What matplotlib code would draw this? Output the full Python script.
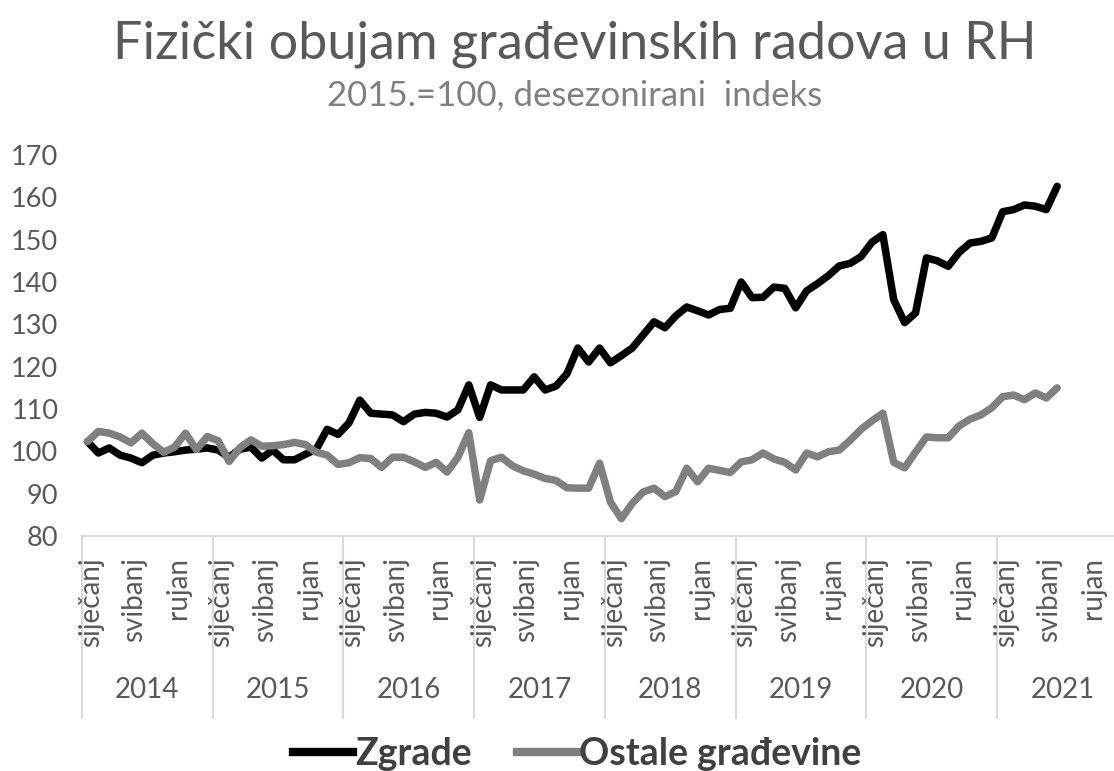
import numpy as np
import matplotlib.pyplot as plt
from matplotlib.lines import Line2D

plt.rcParams['font.family'] = ['Lato', 'DejaVu Sans']

# mjesečni podaci, siječanj 2014 - lipanj 2021
godine = ['2014', '2015', '2016', '2017', '2018', '2019', '2020', '2021']
mjeseci_oznake = {0: 'siječanj', 4: 'svibanj', 8: 'rujan'}

zgrade = [
    102.3, 99.6, 100.8, 99.1, 98.4, 97.3, 99.1, 99.6, 99.9, 100.3, 100.5, 100.8,   # 2014
    100.3, 98.6, 100.5, 101.0, 98.4, 100.3, 98.0, 98.0, 99.3, 100.5, 105.2, 104.0,  # 2015
    106.7, 112.1, 109.0, 108.8, 108.6, 107.0, 108.8, 109.2, 109.0, 108.1, 109.8, 115.7,  # 2016
    108.0, 115.7, 114.5, 114.5, 114.5, 117.6, 114.5, 115.4, 118.3, 124.4, 121.1, 124.4,  # 2017
    120.9, 122.6, 124.4, 127.5, 130.6, 129.2, 132.0, 134.1, 133.2, 132.2, 133.5, 133.8,  # 2018
    140.0, 136.3, 136.4, 138.8, 138.5, 133.9, 137.9, 139.6, 141.5, 143.8, 144.4, 146.0,  # 2019
    149.4, 151.2, 135.8, 130.4, 132.7, 145.7, 145.0, 143.7, 147.0, 149.2, 149.6, 150.4,  # 2020
    156.6, 157.1, 158.2, 157.9, 157.1, 162.6,  # 2021
]

ostale = [
    102.3, 104.7, 104.3, 103.4, 102.0, 104.3, 101.8, 99.8, 101.0, 104.3, 100.4, 103.5,  # 2014
    102.5, 97.6, 100.9, 102.7, 101.2, 101.3, 101.6, 102.1, 101.6, 99.8, 99.1, 96.9,  # 2015
    97.3, 98.5, 98.3, 96.2, 98.6, 98.6, 97.5, 96.2, 97.4, 95.1, 98.6, 104.4,  # 2016
    88.5, 97.8, 98.6, 96.6, 95.4, 94.6, 93.6, 93.1, 91.4, 91.3, 91.3, 97.2,  # 2017
    88.0, 84.1, 87.7, 90.4, 91.3, 89.3, 90.5, 96.0, 92.8, 96.0, 95.5, 95.0,  # 2018
    97.5, 98.0, 99.6, 98.2, 97.4, 95.6, 99.6, 98.7, 99.9, 100.3, 102.6, 105.2,  # 2019
    107.2, 109.0, 97.4, 96.1, 99.8, 103.4, 103.2, 103.2, 106.0, 107.6, 108.6, 110.3,  # 2020
    112.9, 113.3, 112.2, 113.8, 112.6, 115.0,  # 2021
]

boja_teksta = '#595959'
boja_osi = '#d9d9d9'

fig = plt.figure(figsize=(11.14, 7.71), dpi=100)
ax = fig.add_axes([82 / 1114, 1 - 536 / 771, (1128 - 82) / 1114, (536 - 155) / 771])

x = np.arange(len(zgrade))
ax.plot(x, zgrade, color='black', lw=5.4, solid_joinstyle='round', solid_capstyle='round', label='Zgrade')
ax.plot(x, ostale, color='#808080', lw=5.4, solid_joinstyle='round', solid_capstyle='round', label='Ostale građevine')

n_mj = 12 * len(godine)
ax.set_xlim(-0.5, n_mj - 0.5)
ax.set_ylim(80, 170)
ax.set_yticks(np.arange(80, 171, 10))
ax.tick_params(axis='y', length=0, pad=17, labelsize=19.5, labelcolor=boja_teksta)
ax.set_xticks([])

for s in ['left', 'right', 'top']:
    ax.spines[s].set_visible(False)
ax.spines['bottom'].set_color(boja_osi)
ax.spines['bottom'].set_linewidth(1.5)

# dvorazinska kategorijska os (mjesec / godina)
h_px = 536 - 155
for k, god in enumerate(godine):
    x0 = 12 * k - 0.5
    ax.plot([x0, x0], [0, -182 / h_px], transform=ax.get_xaxis_transform(),
            color=boja_osi, lw=1.5, clip_on=False)
    ax.text(12 * k + 5.5, -154 / h_px, god, transform=ax.get_xaxis_transform(),
            ha='center', va='center', fontsize=20, color=boja_teksta)
    for m, naziv in mjeseci_oznake.items():
        ax.text(12 * k + m + 0.3, -21 / h_px, naziv, transform=ax.get_xaxis_transform(),
                rotation=90, ha='center', va='top', fontsize=20, color=boja_teksta)

fig.text(0.516, 0.942, 'Fizički obujam građevinskih radova u RH', ha='center', va='center',
         fontsize=37.5, color=boja_teksta)
fig.text(0.516, 0.876, '2015.=100, desezonirani  indeks', ha='center', va='center',
         fontsize=25, color='#808080')

rucke = [Line2D([], [], color='black', lw=6), Line2D([], [], color='#808080', lw=6)]
leg = fig.legend(rucke, ['Zgrade', 'Ostale građevine'], loc='center', bbox_to_anchor=(0.518, 0.022),
                 ncol=2, frameon=False, handlelength=1.6, handletextpad=0.05, columnspacing=1.2,
                 prop={'size': 27, 'weight': 'bold'})
for t in leg.get_texts():
    t.set_color('#404040')

fig.savefig('out.png', dpi=100)
